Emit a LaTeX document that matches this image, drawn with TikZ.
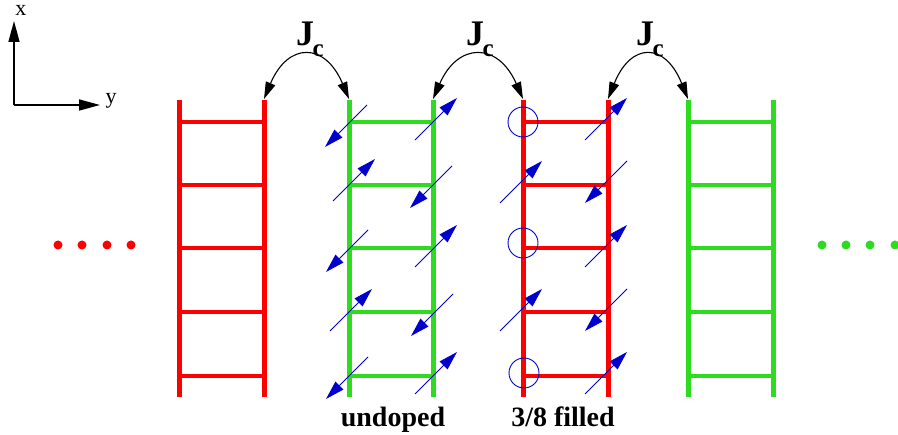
\documentclass[tikz,border=0pt]{standalone}
\usepackage{fontspec}
\setmainfont{Liberation Serif}
\usetikzlibrary{arrows.meta}
\definecolor{lred}{RGB}{255,0,0}
\definecolor{lgreen}{RGB}{45,220,30}
\definecolor{sblue}{RGB}{0,0,205}
\tikzset{
  rail/.style={line width=5pt},
  rung/.style={line width=4.5pt},
  spinarrow/.style={draw=sblue, line width=0.9pt, -{Triangle[length=19pt,width=11pt]}, fill=sblue},
  jarc/.style={line width=1.1pt, {Triangle[length=17pt,width=10pt]}-{Triangle[length=17pt,width=10pt]}},
  axisarrow/.style={line width=1.6pt, -{Triangle[length=21pt,width=11pt]}},
  hole/.style={draw=sblue, line width=0.9pt},
  dotc/.style={inner sep=0pt, minimum size=9pt, circle},
  pics/spinup/.style={code={\draw[spinarrow] (-21,21) -- (21,-21);}},
  pics/spindown/.style={code={\draw[spinarrow] (21,-21) -- (-21,21);}},
}
\newcommand{\ladder}[3]{%
  \draw[rail,#3] (#1,100) -- (#1,397);
  \draw[rail,#3] (#2,100) -- (#2,397);
  \foreach \r in {122,185,248,312,376}{\draw[rung,#3] (#1,\r) -- (#2,\r);}
}
\begin{document}
\begin{tikzpicture}[x=1pt,y=-1pt]
\useasboundingbox (0,0) rectangle (898,435);
% axes
\coordinate (o) at (14,105);
\coordinate (xt) at (14,21);
\coordinate (yt) at (100,105);
\draw[axisarrow] (o) -- (xt);
\draw[axisarrow] (o) -- (yt);
\node[font=\fontsize{22}{22}\selectfont, anchor=base] (xl) at (21,16) {x};
\node[font=\fontsize{22}{22}\selectfont, anchor=base] (yl) at (111,104) {y};
% ladders
\ladder{179}{264}{lred}
\ladder{349}{433}{lgreen}
\ladder{523}{608}{lred}
\ladder{688}{773}{lgreen}
% rail tops
\coordinate (a1) at (264,99);
\coordinate (b1) at (349,99);
\coordinate (a2) at (433,99);
\coordinate (b2) at (523,99);
\coordinate (a3) at (608,99);
\coordinate (b3) at (688,99);
\draw[jarc] (a1) .. controls ++(24,-57) and ++(-24,-57) .. (b1);
\draw[jarc] (a2) .. controls ++(25,-57) and ++(-25,-57) .. (b2);
\draw[jarc] (a3) .. controls ++(23,-57) and ++(-23,-57) .. (b3);
\foreach \n/\x in {1/296,2/466,3/636}{
  \node[anchor=base west, inner sep=0pt, font=\bfseries\fontsize{36}{36}\selectfont] (j\n) at (\x,46)
    {J\kern-1.5pt\raisebox{-11pt}{\fontsize{25}{25}\selectfont c}};
}
% spins on green ladder
\pic at (346,126) {spindown};
\pic at (354,180) {spinup};
\pic at (347,251) {spindown};
\pic at (351,310) {spinup};
\pic at (347,378) {spindown};
\pic at (436,119) {spinup};
\pic at (431,187) {spindown};
\pic at (436,246) {spinup};
\pic at (432,315) {spindown};
\pic at (436,373) {spinup};
% spins and holes on red ladder
\draw[hole] (523,122) circle[radius=15];
\draw[hole] (523,243) circle[radius=15];
\draw[hole] (524,373) circle[radius=15];
\pic at (521,182) {spinup};
\pic at (521,310) {spinup};
\pic at (606,119) {spinup};
\pic at (606,182) {spindown};
\pic at (606,246) {spinup};
\pic at (606,310) {spindown};
\pic at (606,373) {spinup};
% dots
\foreach \x [count=\i] in {58,82,107,131}{\node[dotc, fill=lred] (rd\i) at (\x,245) {};}
\foreach \x [count=\i] in {822,846,870,895}{\node[dotc, fill=lgreen] (gd\i) at (\x,245) {};}
% labels
\node[anchor=base, font=\bfseries\fontsize{28}{28}\selectfont] (undoped) at (393,427) {undoped};
\node[anchor=base, font=\bfseries\fontsize{28}{28}\selectfont] (filled) at (563,427) {3/8 filled};
\end{tikzpicture}
\end{document}
